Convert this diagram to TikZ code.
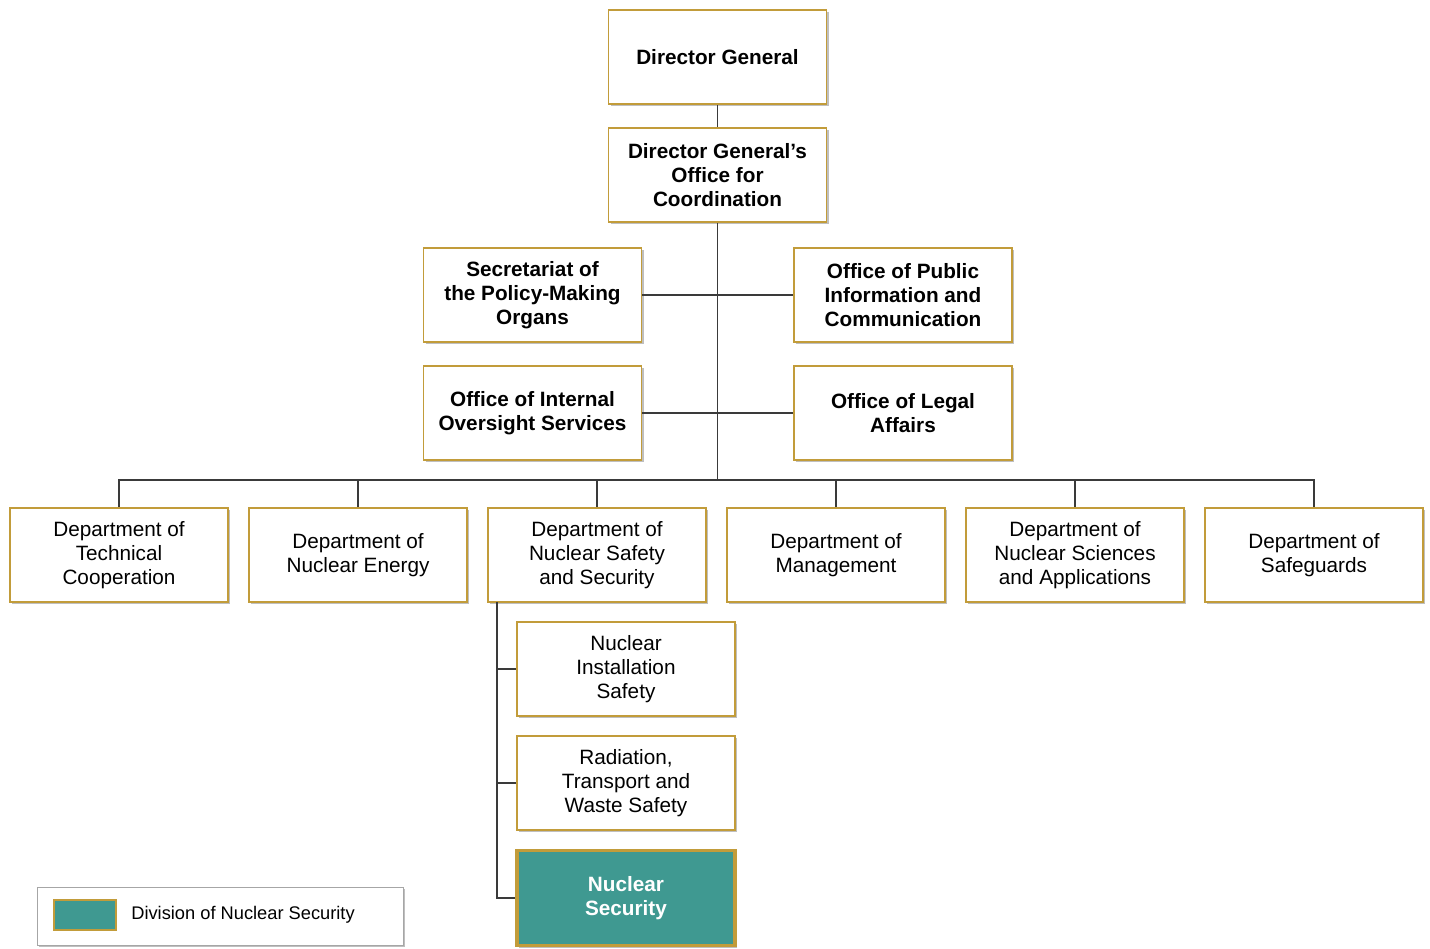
\documentclass[tikz,border=0pt]{standalone}
\usepackage{fontspec}
\setmainfont{Liberation Sans}
\usetikzlibrary{shadows}
\definecolor{unitgold}{HTML}{C29C3A}
\definecolor{secteal}{HTML}{3F9991}
\definecolor{wireg}{HTML}{3A3A3A}
\begin{document}
\begin{tikzpicture}[x=0.02cm, y=-0.02cm,
  unit/.style={draw=unitgold, line width=1pt, fill=white, align=center,
    minimum width=4.36cm, minimum height=1.88cm, inner sep=2pt,
    font=\fontsize{11.8}{13.7}\selectfont,
    drop shadow={shadow xshift=1.2pt, shadow yshift=-1.2pt, opacity=0.25, fill=black}},
  head/.style={unit, font=\fontsize{11.8}{13.7}\selectfont\bfseries},
  wire/.style={draw=wireg, line width=0.7pt}]
 \useasboundingbox (0,0) rectangle (1430,948);
 % top of the chart
 \node[head] (dg) at (717.5,57) {Director General};
 \node[head] (dgo) at (717.5,175) {Director General's\\Office for\\Coordination};
 \node[head] (spmo) at (532.5,295) {Secretariat of\\the Policy-Making\\Organs};
 \node[head] (opic) at (903,295) {Office of Public\\Information and\\Communication};
 \node[head] (oios) at (532.5,413) {Office of Internal\\Oversight Services};
 \node[head] (ola) at (903,413) {Office of Legal\\Affairs};
 \coordinate (bus) at (717.5,480);
 % departments
 \node[unit] (dtc) at (119,555) {Department of\\Technical\\Cooperation};
 \node[unit] (dne) at (358,555) {Department of\\Nuclear Energy};
 \node[unit] (dnss) at (597,555) {Department of\\Nuclear Safety\\and Security};
 \node[unit] (dm) at (836,555) {Department of\\Management};
 \node[unit] (dnsa) at (1075,555) {Department of\\Nuclear Sciences\\and Applications};
 \node[unit] (dsg) at (1314,555) {Department of\\Safeguards};
 % divisions
 \coordinate (spine) at (497,602);
 \node[unit] (nis) at (626,669) {Nuclear\\Installation\\Safety};
 \node[unit] (rtw) at (626,783) {Radiation,\\Transport and\\Waste Safety};
 \node[head, fill=secteal, text=white, line width=2pt, minimum height=1.9cm] (nsec) at (626,898) {Nuclear\\Security};
 % legend
 \node[draw=gray!70, line width=0.5pt, fill=white, minimum width=7.32cm, minimum height=1.16cm,
   drop shadow={shadow xshift=1.2pt, shadow yshift=-1.2pt, opacity=0.25, fill=black}] (leg) at (220,916) {};
 \node[draw=unitgold, fill=secteal, line width=1.5pt, minimum width=1.24cm, minimum height=0.6cm, inner sep=0pt] (legkey) at (85,915) {};
 \node[anchor=west, font=\fontsize{10.4}{12}\selectfont, inner sep=0pt] (legtxt) at (131,915) {Division of Nuclear Security};
 % connectors
 \draw[wire] (dg) -- (dgo);
 \draw[wire] (dgo) -- (bus);
 \draw[wire] (spmo) -- (opic);
 \draw[wire] (oios) -- (ola);
 \foreach \d in {dtc,dne,dnss,dm,dnsa,dsg}
   \draw[wire] (bus) -| (\d);
 \draw[wire] (spine) |- (nis);
 \draw[wire] (spine) |- (rtw);
 \draw[wire] (spine) |- (nsec);
\end{tikzpicture}
\end{document}
